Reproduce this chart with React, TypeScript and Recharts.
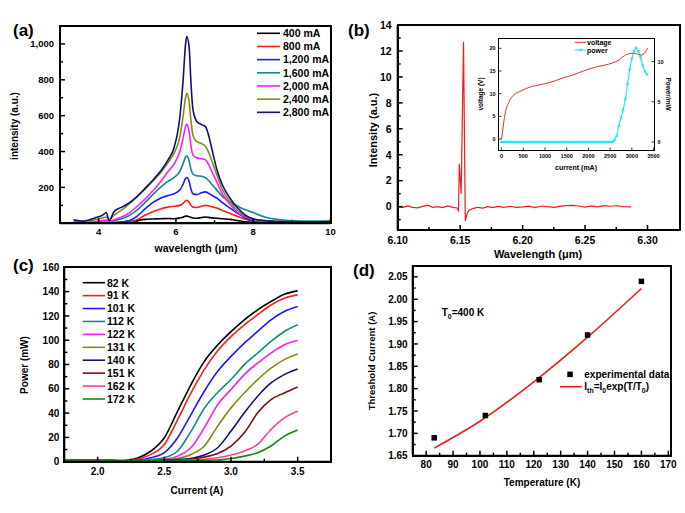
import React from 'react';
import { LineChart, Line, XAxis, YAxis } from 'recharts';

const FONT = '"Liberation Sans", Arial, Helvetica, sans-serif';

// ---- (a) EL spectra vs drive current ----
const specWl = [3.35, 3.6, 3.9, 4.1, 4.2, 4.27, 4.4, 4.6, 4.8, 5.0, 5.2, 5.4, 5.6, 5.8, 5.95, 6.1, 6.18, 6.25, 6.28, 6.34, 6.39, 6.44, 6.54, 6.66, 6.76, 6.84, 6.94, 7.06, 7.2, 7.4, 7.6, 7.8, 8.0, 8.3, 8.6, 9.0, 9.5, 10.0];
const s400 = [2, 2, 3, 3, 3, 2, 3, 4, 6, 15, 22, 24, 25, 27, 25, 30, 34, 40, 40, 37, 33, 30, 28, 32, 35, 33, 30, 28, 25, 22, 15, 8, 5, 3, 2, 2, 2, 2];
const s800 = [2, 2, 3, 3, 3, 2, 3, 3, 8, 20, 45, 65, 80, 90, 95, 100, 110, 125, 128, 118, 100, 90, 88, 95, 100, 98, 92, 85, 72, 55, 38, 22, 12, 6, 4, 3, 3, 3];
const s1200 = [3, 3, 4, 5, 5, 3, 5, 8, 15, 40, 80, 115, 140, 155, 165, 185, 215, 250, 255, 235, 190, 165, 160, 170, 175, 168, 155, 140, 115, 85, 55, 30, 15, 8, 5, 5, 5, 5];
const s1600 = [5, 5, 8, 12, 15, 8, 15, 25, 45, 75, 115, 160, 200, 235, 255, 290, 330, 370, 375, 350, 300, 275, 265, 262, 255, 240, 215, 185, 150, 120, 95, 75, 60, 35, 22, 15, 12, 12];
const s2000 = [5, 5, 10, 15, 18, 10, 20, 35, 60, 95, 135, 180, 230, 290, 330, 400, 470, 540, 553, 510, 430, 380, 365, 360, 355, 330, 285, 230, 165, 105, 60, 35, 20, 12, 10, 8, 8, 10];
const s2400 = [10, 10, 20, 30, 35, 20, 45, 75, 110, 150, 190, 235, 280, 340, 390, 480, 590, 700, 725, 680, 570, 490, 455, 445, 430, 400, 340, 270, 190, 120, 70, 40, 22, 14, 10, 8, 8, 10];
const s2800 = [20, 12, 30, 45, 60, 15, 65, 90, 115, 150, 195, 240, 290, 355, 420, 590, 780, 1000, 1043, 985, 780, 635, 568, 550, 540, 495, 405, 300, 215, 140, 85, 45, 25, 15, 10, 8, 8, 10];
const specLabels = ['400 mA', '800 mA', '1,200 mA', '1,600 mA', '2,000 mA', '2,400 mA', '2,800 mA'];
const specColors = ['#000000', '#ff1a1a', '#1a1aff', '#0f8a8a', '#ff1aff', '#8a8a10', '#10107a'];
const specValues = [s400, s800, s1200, s1600, s2000, s2400, s2800];
const specXTicks = [4, 5, 6, 7, 8, 9, 10];
const specXLabels = [4, 6, 8, 10];
const specYTicks = [100, 200, 300, 400, 500, 600, 700, 800, 900, 1000];
const specYLabels = [200, 400, 600, 800, 1000];

// ---- (b) high resolution lasing spectrum ----
const lasWl = [6.100, 6.104, 6.108, 6.112, 6.116, 6.120, 6.124, 6.128, 6.132, 6.136, 6.140, 6.144, 6.1475, 6.1487, 6.1493, 6.1508, 6.1527, 6.1541, 6.1555, 6.157, 6.160, 6.164, 6.168, 6.172, 6.176, 6.180, 6.185, 6.190, 6.195, 6.200, 6.205, 6.210, 6.215, 6.220, 6.225, 6.230, 6.235, 6.240, 6.245, 6.250, 6.255, 6.260, 6.265, 6.270, 6.275, 6.280, 6.287];
const lasInt = [0.0, -0.08, 0.05, -0.05, -0.1, 0.02, 0.12, -0.05, 0.0, -0.08, 0.05, -0.05, -0.1, -0.3, 3.3, 1.0, 12.7, -1.1, -0.55, -0.3, -0.15, -0.05, -0.12, 0.0, -0.08, 0.02, -0.06, 0.03, -0.05, -0.02, 0.04, -0.08, 0.05, 0.0, -0.06, 0.02, 0.08, 0.1, 0.05, -0.03, 0.06, -0.02, 0.08, 0.03, 0.07, 0.0, -0.02];
const lasXTicks = [6.1, 6.125, 6.15, 6.175, 6.2, 6.225, 6.25, 6.275, 6.3];
const lasXLabels = [6.1, 6.15, 6.2, 6.25, 6.3];
const lasYTicks = [-1, 0, 1, 2, 3, 4, 5, 6, 7, 8, 9, 10, 11, 12, 13, 14];
const lasYLabels = [0, 2, 4, 6, 8, 10, 12, 14];

// inset: L-I-V
const ivCurrent = [0, 20, 50, 90, 170, 280, 450, 660, 850, 1040, 1250, 1420, 1600, 1800, 2000, 2180, 2380, 2560, 2700, 2790, 2870, 3020, 3100, 3210, 3300, 3363];
const ivVoltage = [0, 1.5, 3.8, 6.0, 8.2, 9.7, 10.6, 11.5, 11.9, 12.3, 12.9, 13.5, 14.0, 14.7, 15.4, 15.9, 16.3, 16.8, 17.4, 18.1, 18.6, 18.9, 18.8, 18.5, 19.0, 20.1];
const liCurrent = [0, 50, 100, 150, 200, 250, 300, 350, 400, 450, 500, 550, 600, 650, 700, 750, 800, 850, 900, 950, 1000, 1050, 1100, 1150, 1200, 1250, 1300, 1350, 1400, 1450, 1500, 1550, 1600, 1650, 1700, 1750, 1800, 1850, 1900, 1950, 2000, 2050, 2100, 2150, 2200, 2250, 2300, 2350, 2400, 2450, 2500, 2550, 2600, 2650, 2700, 2750, 2800, 2850, 2900, 2950, 3000, 3050, 3100, 3150, 3200, 3250, 3300, 3350];
const liPower = [0, 0, 0, 0, 0, 0, 0, 0, 0, 0, 0, 0, 0, 0, 0, 0, 0, 0, 0, 0, 0, 0, 0, 0, 0, 0, 0, 0, 0, 0, 0, 0, 0, 0, 0, 0, 0, 0, 0, 0, 0, 0, 0, 0, 0, 0, 0, 0, 0, 0, 0, 0, 0.2, 0.8, 2.0, 3.0, 4.0, 5.3, 7.2, 9.0, 10.4, 11.3, 11.7, 11.3, 10.5, 9.5, 8.8, 8.4];
const ivXTicks = [0, 500, 1000, 1500, 2000, 2500, 3000, 3500];
const ivVTicks = [0, 5, 10, 15, 20];
const ivPTicks = [0, 5, 10];

// ---- (c) L-I curves vs temperature ----
const liTempCurrent = [1.75, 2.0, 2.1, 2.2, 2.3, 2.4, 2.5, 2.6, 2.7, 2.8, 2.9, 3.0, 3.1, 3.2, 3.3, 3.4, 3.5];
const p82 = [1.5, 1.5, 1.0, 1.0, 3.0, 8.8, 19.7, 41.6, 63.5, 82.6, 96, 107, 116.8, 125, 131.8, 137.8, 140.6];
const p91 = [1.5, 1.5, 1.0, 0.9, 2.2, 6, 14.2, 34.7, 56.6, 75.8, 91.3, 103, 112.7, 121, 129, 134.6, 137.3];
const p101 = [1.5, 1.5, 1.0, 0.8, 1.3, 3.3, 7.4, 19.7, 38.8, 58, 74.4, 86.7, 97.6, 107.2, 116.8, 123.6, 127.7];
const p112 = [1.5, 1.5, 1.0, 0.8, 1.0, 1.8, 3.3, 8.8, 25, 44, 57, 67.6, 79.9, 89.4, 99, 107.2, 112.7];
const p122 = [1.5, 1.5, 1.0, 0.8, 0.8, 1.2, 2, 4.6, 11.5, 27.9, 47, 59.3, 71.7, 81.2, 89.4, 96.3, 99.8];
const p131 = [1.5, 1.5, 1.0, 0.8, 0.8, 1.0, 1.5, 2.7, 6, 12.9, 29.3, 44.3, 56.6, 67.6, 77, 84, 88.6];
const p140 = [1.5, 1.5, 1.0, 0.8, 0.8, 0.8, 1.2, 1.8, 2.7, 5.5, 11.5, 25.2, 40.2, 53.9, 64.8, 71.7, 76.3];
const p151 = [1.5, 1.5, 1.0, 0.8, 0.8, 0.8, 1.0, 1.3, 1.9, 3.8, 6.8, 12.9, 23.8, 40.2, 51.1, 56.6, 61.5];
const p162 = [1.5, 1.5, 1.0, 0.8, 0.8, 0.8, 0.8, 1.0, 1.4, 2.0, 3.3, 5.5, 8.8, 14.2, 26.5, 36.1, 41.6];
const p172 = [1.5, 1.5, 1.0, 0.8, 0.8, 0.8, 0.8, 0.8, 1.0, 1.2, 1.4, 2.7, 4.6, 7.4, 12.9, 21, 26];
const tempLabels = ['82 K', '91 K', '101 K', '112 K', '122 K', '131 K', '140 K', '151 K', '162 K', '172 K'];
const tempColors = ['#000000', '#ff1a1a', '#1a1aff', '#0f8a8a', '#ff1aff', '#8a8a10', '#10107a', '#7a1010', '#ff3e96', '#108a10'];
const tempValues = [p82, p91, p101, p112, p122, p131, p140, p151, p162, p172];
const liXTicks = [2.0, 2.25, 2.5, 2.75, 3.0, 3.25, 3.5];
const liXLabels = [2.0, 2.5, 3.0, 3.5];
const liYTicks = [0, 10, 20, 30, 40, 50, 60, 70, 80, 90, 100, 110, 120, 130, 140, 150, 160];
const liYLabels = [0, 20, 40, 60, 80, 100, 120, 140, 160];

// ---- (d) threshold current vs temperature ----
const expTemp = [83, 102, 122, 140, 160];
const expIth = [1.69, 1.74, 1.82, 1.92, 2.04];
const fitTemp = [83, 100, 120, 140, 160];
const fitIth = [1.667, 1.727, 1.815, 1.915, 2.024];
const thXTicks = [80, 85, 90, 95, 100, 105, 110, 115, 120, 125, 130, 135, 140, 145, 150, 155, 160, 165, 170];
const thXLabels = [80, 90, 100, 110, 120, 130, 140, 150, 160, 170];
const thYTicks = [1.65, 1.675, 1.7, 1.725, 1.75, 1.775, 1.8, 1.825, 1.85, 1.875, 1.9, 1.925, 1.95, 1.975, 2.0, 2.025, 2.05];
const thYLabels = [1.65, 1.7, 1.75, 1.8, 1.85, 1.9, 1.95, 2.0, 2.05];

const spectraRows = specWl.map((w, i) => {
    const row: any = { w };
    specValues.forEach((vals, k) => { row['s' + k] = vals[i]; });
    return row;
});
const lasRows = lasWl.map((w, i) => ({ w, v: lasInt[i] }));
const ivRows = ivCurrent.map((c, i) => ({ c, v: ivVoltage[i] }));
const liRows = liCurrent.map((c, i) => ({ c, p: liPower[i] }));
const tempRows = liTempCurrent.map((c, i) => {
    const row: any = { c };
    tempValues.forEach((vals, k) => { row['t' + k] = vals[i]; });
    return row;
});
const expRows = expTemp.map((t, i) => ({ t, i: expIth[i] }));
const fitRows = fitTemp.map((t, i) => ({ t, i: fitIth[i] }));

// chart placement: position + margins; plot area follows from these
const boxA = { left: 0, top: 0, w: 340, h: 250, m: { top: 26, right: 9.5, bottom: 6.7, left: 20 }, yw: 40, xh: 20, yw2: 0 };
const boxB = { left: 340, top: 0, w: 345, h: 262, m: { top: 25, right: 5, bottom: 12, left: 17.7 }, yw: 40, xh: 20, yw2: 0 };
const boxInset = { left: 470, top: 28, w: 205, h: 135, m: { top: 10.3, right: 7, bottom: 3, left: 11 }, yw: 18, xh: 10, yw2: 14 };
const boxC = { left: 0, top: 250, w: 340, h: 250, m: { top: 17.3, right: 9, bottom: 18.3, left: 24.3 }, yw: 40, xh: 20, yw2: 0 };
const boxD = { left: 340, top: 250, w: 345, h: 250, m: { top: 15.7, right: 14, bottom: 24.3, left: 32.7 }, yw: 40, xh: 20, yw2: 0 };

const plotRect = (b: any) => {
    const x = b.left + b.m.left + b.yw;
    const y = b.top + b.m.top;
    const r = b.left + b.w - b.m.right - b.yw2;
    const bot = b.top + b.h - b.m.bottom - b.xh;
    return { x, y, width: r - x, height: bot - y };
};

const near = (list: number[], v: number) => list.some((m) => Math.abs(m - v) < 1e-6);

// ticks drawn inward; only the labelled ones get text
const makeTick = (side: 'bottom' | 'left' | 'right', labelled: number[], fmt: (v: number) => string,
    fontSize: number, gap: number, big = 5, small = 3, sw = 1.5) => (props: any) => {
    const { x, y, payload } = props;
    const v = Number(payload.value);
    const major = near(labelled, v);
    const len = major ? big : small;
    const txt = { fontSize, fontWeight: 700, fontFamily: FONT, fill: '#000' };
    if (side === 'bottom') {
        return (
            <g>
                <line x1={x} y1={y} x2={x} y2={y - len} stroke="#000" strokeWidth={sw} />
                {major && <text x={x} y={y + gap} textAnchor="middle" {...txt}>{fmt(v)}</text>}
            </g>
        );
    }
    if (side === 'left') {
        return (
            <g>
                <line x1={x} y1={y} x2={x + len} y2={y} stroke="#000" strokeWidth={sw} />
                {major && <text x={x - gap} y={y} dy="0.36em" textAnchor="end" {...txt}>{fmt(v)}</text>}
            </g>
        );
    }
    return (
        <g>
            <line x1={x} y1={y} x2={x - len} y2={y} stroke="#000" strokeWidth={sw} />
            {major && <text x={x + gap} y={y} dy="0.36em" textAnchor="start" {...txt}>{fmt(v)}</text>}
        </g>
    );
};

const squareDot = (size: number, color: string) => (props: any) => {
    const { cx, cy, index } = props;
    if (cx == null || cy == null) return <g key={index} />;
    return <rect key={index} x={cx - size / 2} y={cy - size / 2} width={size} height={size} fill={color} />;
};

const axisLine2 = { stroke: '#000', strokeWidth: 2 };
const axisCommon = { tickLine: false, tickSize: 0, tickMargin: 0, interval: 0 as const, allowDataOverflow: true };
const at = (b: any) => ({ position: 'absolute' as const, left: b.left, top: b.top });

const SpectraPanel = () => (
    <div style={at(boxA)}>
        <LineChart width={boxA.w} height={boxA.h} data={spectraRows} margin={boxA.m}>
            <XAxis dataKey="w" type="number" domain={[3, 10]} ticks={specXTicks} height={boxA.xh} axisLine={axisLine2} {...axisCommon}
                tick={makeTick('bottom', specXLabels, (v) => String(v), 9.5, 11.5)} />
            <YAxis type="number" domain={[0, 1100]} ticks={specYTicks} width={boxA.yw} axisLine={axisLine2} {...axisCommon}
                tick={makeTick('left', specYLabels, (v) => v.toLocaleString('en-US'), 9.5, 6)} />
            {specValues.map((_, k) => (
                <Line key={k} dataKey={'s' + k} type="monotone" stroke={specColors[k]} strokeWidth={1.6} dot={false} isAnimationActive={false} />
            ))}
        </LineChart>
    </div>
);

const LasingPanel = () => (
    <div style={at(boxB)}>
        <LineChart width={boxB.w} height={boxB.h} data={lasRows} margin={boxB.m}>
            <XAxis dataKey="w" type="number" domain={[6.1, 6.326]} ticks={lasXTicks} height={boxB.xh} axisLine={axisLine2} {...axisCommon}
                tick={makeTick('bottom', lasXLabels, (v) => v.toFixed(2), 10.5, 14.3)} />
            <YAxis type="number" domain={[-1.8, 14]} ticks={lasYTicks} width={boxB.yw} axisLine={axisLine2} {...axisCommon}
                tick={makeTick('left', lasYLabels, (v) => String(v), 10.5, 6)} />
            <Line dataKey="v" type="linear" stroke="#ee1c1c" strokeWidth={1.2} dot={false} isAnimationActive={false} />
        </LineChart>
    </div>
);

const InsetPanel = () => (
    <div style={at(boxInset)}>
        <LineChart width={boxInset.w} height={boxInset.h} margin={boxInset.m}>
            <XAxis dataKey="c" type="number" domain={[-60, 3510]} ticks={ivXTicks} height={boxInset.xh} axisLine={false} {...axisCommon}
                tick={makeTick('bottom', ivXTicks, (v) => String(v), 5.5, 7.5, 2.5, 1.5, 0.8)} />
            <YAxis yAxisId="v" type="number" domain={[-2.4, 22.2]} ticks={ivVTicks} width={boxInset.yw} axisLine={false} {...axisCommon}
                tick={makeTick('left', ivVTicks, (v) => String(v), 5.5, 3.5, 2.5, 1.5, 0.8)} />
            <YAxis yAxisId="p" orientation="right" type="number" domain={[-1, 12.9]} ticks={ivPTicks} width={boxInset.yw2} axisLine={false} {...axisCommon}
                tick={makeTick('right', ivPTicks, (v) => String(v), 5.5, 3.5, 2.5, 1.5, 0.8)} />
            <Line yAxisId="p" data={liRows} dataKey="p" type="linear" stroke="#29e3f0" strokeWidth={1.2}
                dot={squareDot(2.4, '#29e3f0')} isAnimationActive={false} />
            <Line yAxisId="v" data={ivRows} dataKey="v" type="monotone" stroke="#ee2a2a" strokeWidth={1} dot={false} isAnimationActive={false} />
        </LineChart>
    </div>
);

const PowerPanel = () => (
    <div style={at(boxC)}>
        <LineChart width={boxC.w} height={boxC.h} data={tempRows} margin={boxC.m}>
            <XAxis dataKey="c" type="number" domain={[1.75, 3.75]} ticks={liXTicks} height={boxC.xh} axisLine={axisLine2} {...axisCommon}
                tick={makeTick('bottom', liXLabels, (v) => v.toFixed(1), 10, 13.6)} />
            <YAxis type="number" domain={[0, 160]} ticks={liYTicks} width={boxC.yw} axisLine={axisLine2} {...axisCommon}
                tick={makeTick('left', liYLabels, (v) => String(v), 10, 5)} />
            {tempValues.map((_, k) => (
                <Line key={k} dataKey={'t' + k} type="monotone" stroke={tempColors[k]} strokeWidth={1.6} dot={false} isAnimationActive={false} />
            ))}
        </LineChart>
    </div>
);

const ThresholdPanel = () => (
    <div style={at(boxD)}>
        <LineChart width={boxD.w} height={boxD.h} margin={boxD.m}>
            <XAxis dataKey="t" type="number" domain={[75, 171]} ticks={thXTicks} height={boxD.xh} axisLine={axisLine2} {...axisCommon}
                tick={makeTick('bottom', thXLabels, (v) => String(v), 10, 12)} />
            <YAxis type="number" domain={[1.65, 2.075]} ticks={thYTicks} width={boxD.yw} axisLine={axisLine2} {...axisCommon}
                tick={makeTick('left', thYLabels, (v) => v.toFixed(2), 10, 5)} />
            <Line data={fitRows} dataKey="i" type="monotone" stroke="#ee1c1c" strokeWidth={1.6} dot={false} isAnimationActive={false} />
            <Line data={expRows} dataKey="i" stroke="none" dot={squareDot(5.5, '#000')} isAnimationActive={false} />
        </LineChart>
    </div>
);

// plot frames as bordered boxes laid over the charts
const FrameBox = ({ b, t }: { b: any; t: number }) => {
    const r = plotRect(b);
    return (
        <div style={{
            position: 'absolute', left: r.x - t / 2, top: r.y - t / 2, width: r.width + t, height: r.height + t,
            border: `${t}px solid #000`, boxSizing: 'border-box', pointerEvents: 'none',
        }} />
    );
};

const txt = (size: number) => ({ fontSize: size, fontWeight: 700, fontFamily: FONT, fill: '#000' });

const Annotations = () => (
    <svg width={685} height={513} style={{ position: 'absolute', left: 0, top: 0 }}>
        {/* panel letters */}
        <text x={13} y={36} {...txt(17)}>(a)</text>
        <text x={348} y={36} {...txt(17)}>(b)</text>
        <text x={13} y={271} {...txt(17)}>(c)</text>
        <text x={353} y={276} {...txt(17)}>(d)</text>

        {/* axis titles */}
        <text x={196} y={252} textAnchor="middle" {...txt(10.5)}>wavelength (μm)</text>
        <text transform="translate(17.5,126) rotate(-90)" textAnchor="middle" {...txt(10)}>intensity (a.u.)</text>
        <text x={538} y={258} textAnchor="middle" {...txt(11)}>Wavelength (μm)</text>
        <text transform="translate(377,130) rotate(-90)" textAnchor="middle" {...txt(11)}>Intensity (a.u.)</text>
        <text x={197} y={494} textAnchor="middle" {...txt(10)}>Current (A)</text>
        <text transform="translate(28,365) rotate(-90)" textAnchor="middle" {...txt(10)}>Power (mW)</text>
        <text x={542} y={485.5} textAnchor="middle" {...txt(10)}>Temperature (K)</text>
        <text transform="translate(375,361) rotate(-90)" textAnchor="middle" {...txt(9.5)}>Threshold Current (A)</text>

        {/* inset titles + legend */}
        <text x={576} y={169.5} textAnchor="middle" {...txt(7)}>current (mA)</text>
        <text transform="translate(482.5,94) rotate(-90)" textAnchor="middle" {...txt(6.5)}>voltage (V)</text>
        <text transform="translate(666,94) rotate(90)" textAnchor="middle" {...txt(6.5)}>Power/mW</text>
        <line x1={575} y1={42.3} x2={586} y2={42.3} stroke="#ee2a2a" strokeWidth={1} />
        <text x={587} y={44.8} {...txt(7)}>voltage</text>
        <line x1={575} y1={50} x2={586} y2={50} stroke="#29e3f0" strokeWidth={1.2} />
        <rect x={579.3} y={48.8} width={2.4} height={2.4} fill="#29e3f0" />
        <text x={587} y={52.5} {...txt(7)}>power</text>

        {/* (a) legend */}
        {specLabels.map((l, k) => (
            <g key={l}>
                <line x1={257} y1={33.3 + k * 13.17} x2={280} y2={33.3 + k * 13.17} stroke={specColors[k]} strokeWidth={1.6} />
                <text x={283} y={33.3 + k * 13.17 + 3.8} {...txt(10.5)}>{l}</text>
            </g>
        ))}

        {/* (c) legend */}
        {tempLabels.map((l, k) => (
            <g key={l}>
                <line x1={82.7} y1={282.7 + k * 12.92} x2={105} y2={282.7 + k * 12.92} stroke={tempColors[k]} strokeWidth={1.6} />
                <text x={107} y={282.7 + k * 12.92 + 3.8} {...txt(10.5)}>{l}</text>
            </g>
        ))}

        {/* (d) annotations */}
        <text x={441.7} y={315.5} {...txt(10)}>T<tspan dy={3} fontSize={7}>0</tspan><tspan dy={-3}>=400 K</tspan></text>
        <rect x={567.3} y={371.6} width={5.5} height={5.5} fill="#000" />
        <text x={584.3} y={378} {...txt(10)}>experimental data</text>
        <line x1={560} y1={386.7} x2={581.7} y2={386.7} stroke="#ee1c1c" strokeWidth={1.6} />
        <text x={584.3} y={390} {...txt(10)}>
            I<tspan dy={3} fontSize={7}>th</tspan><tspan dy={-3}>=I</tspan><tspan dy={3} fontSize={7}>0</tspan>
            <tspan dy={-3}>exp(T/T</tspan><tspan dy={3} fontSize={7}>0</tspan><tspan dy={-3}>)</tspan>
        </text>
    </svg>
);

export default function App() {
    return (
        <div style={{ position: 'absolute', left: 0, top: 0, width: 685, height: 513, background: '#fff', fontFamily: FONT }}>
            <SpectraPanel />
            <LasingPanel />
            <InsetPanel />
            <PowerPanel />
            <ThresholdPanel />
            <Annotations />
            <FrameBox b={boxA} t={2} />
            <FrameBox b={boxB} t={2} />
            <FrameBox b={boxC} t={2} />
            <FrameBox b={boxD} t={2} />
            <FrameBox b={boxInset} t={1.2} />
        </div>
    );
}
